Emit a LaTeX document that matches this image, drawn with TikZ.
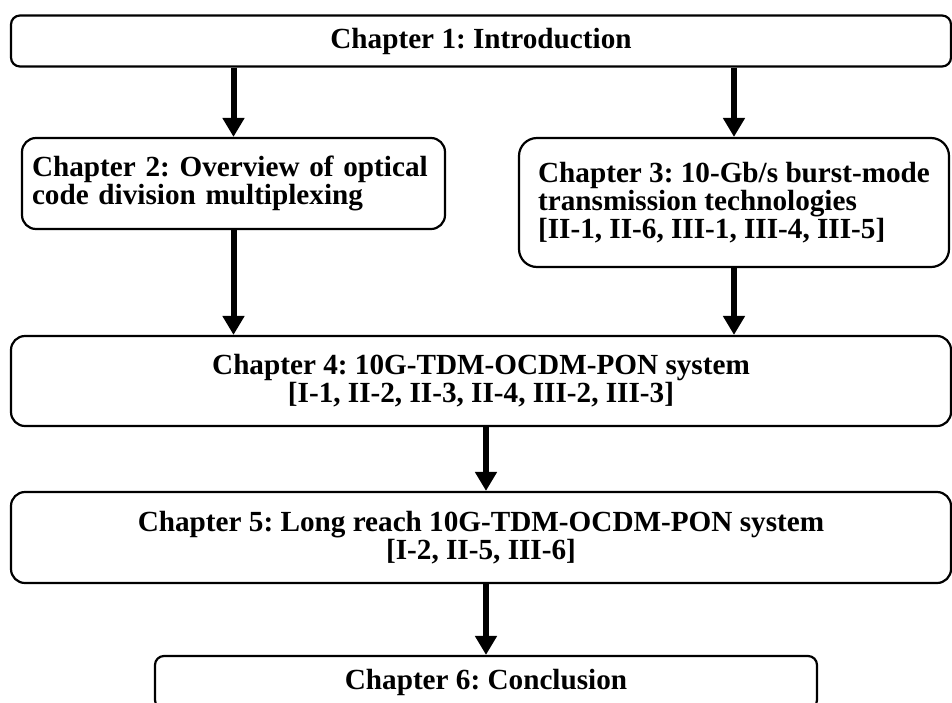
\documentclass[tikz,border=0pt]{standalone}
\usepackage{fontspec}
\setmainfont{Liberation Serif}
\usetikzlibrary{arrows.meta,positioning}

\begin{document}
\begin{tikzpicture}[x=1pt,y=-1pt,
  chapbox/.style={draw,line width=2.2pt,rounded corners=14pt,inner sep=0pt,
    font=\fontsize{29.2}{28}\selectfont\bfseries\frenchspacing},
  flow/.style={line width=6pt,-{Triangle[length=19pt,width=21pt]}}]
\clip (0,0) rectangle (952,702); %%
\begin{scope}[every node/.style={chapbox}]
\node[minimum width=940pt,minimum height=51pt,rounded corners=9pt] (ch1) at (481,41) {Chapter 1: Introduction}; %%
\node[text width=403pt,inner xsep=10pt,minimum height=91pt,align=left] (ch2) at (233.5,183.5) {Chapter 2: Overview of optical\\code division multiplexing}; %%
\node[minimum width=430pt,minimum height=129pt,align=left,rounded corners=18pt] (ch3) at (734,202.5) {Chapter 3: 10-Gb/s burst-mode\\transmission technologies\\{}[II-1, II-6, III-1, III-4, III-5]}; %%
\node[minimum width=940pt,minimum height=90pt,align=center] (ch4) at (481,381) {Chapter 4: 10G-TDM-OCDM-PON system\\{}[I-1, II-2, II-3, II-4, III-2, III-3]}; %%
\node[minimum width=940pt,minimum height=91pt,align=center] (ch5) at (481,537.5) {Chapter 5: Long reach 10G-TDM-OCDM-PON system\\{}[I-2, II-5, III-6]}; %%
\node[minimum width=662pt,minimum height=53pt,rounded corners=9pt] (ch6) at (486,682.5) {Chapter 6: Conclusion}; %%
\end{scope}
\draw[flow] (ch1.south -| ch2.north) -- (ch2.north); %%
\draw[flow] (ch1.south -| ch3.north) -- (ch3.north); %%
\draw[flow] (ch2.south) -- (ch2.south |- ch4.north); %%
\draw[flow] (ch3.south) -- (ch3.south |- ch4.north); %%
\draw[flow] (ch4.south -| ch6.north) -- (ch5.north -| ch6.north); %%
\draw[flow] (ch5.south -| ch6.north) -- (ch6.north); %%
\end{tikzpicture}
\end{document}
